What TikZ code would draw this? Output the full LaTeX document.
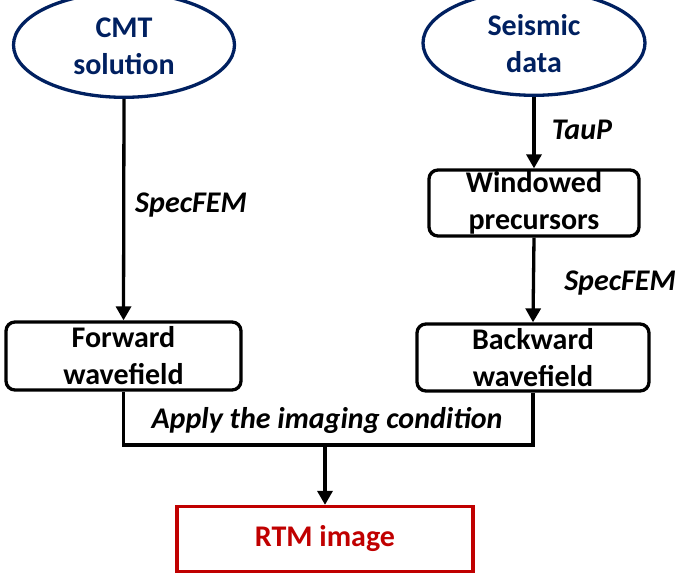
\documentclass[tikz,border=0pt]{standalone}
\usepackage{fontspec}
\setmainfont{Carlito}
\usetikzlibrary{shapes.geometric,arrows.meta}
\definecolor{navy}{RGB}{0,32,96}
\definecolor{rtmred}{RGB}{192,0,0}
\newcommand{\lowtwo}[2]{\raisebox{-4pt}[\height][\depth]{\begin{tabular}{@{}c@{}}#1\\#2\end{tabular}}}
\begin{document}
\begin{tikzpicture}[x=1pt,y=-1pt,
  boxtxt/.style={font=\fontsize{30}{37}\selectfont\bfseries, align=center, inner sep=0pt},
  oval/.style={boxtxt, ellipse, draw=navy, text=navy, line width=3.3pt},
  rbox/.style={boxtxt, draw=black, rounded corners=9pt, line width=3.3pt},
  redbox/.style={boxtxt, draw=rtmred, text=rtmred, line width=3.3pt},
  lab/.style={font=\fontsize{30}{36}\selectfont\bfseries\itshape, inner sep=0pt},
  conn/.style={line width=3.3pt},
  arr/.style={conn, -{Triangle[length=14pt,width=15pt]}}]
\useasboundingbox (0,0) rectangle (677,573);
\node[oval, minimum width=221pt, minimum height=74pt] (cmt) at (124,45) {\lowtwo{CMT}{solution}};
\node[oval, minimum width=222pt, minimum height=75pt] (seis) at (534,43) {\lowtwo{Seismic}{data}};
\node[rbox, minimum width=210pt, minimum height=66pt] (win) at (534,203) {Windowed\\precursors};
\node[rbox, minimum width=235pt, minimum height=68pt] (fwd) at (123.5,356) {Forward\\wavefield};
\node[rbox, minimum width=232pt, minimum height=67pt] (bwd) at (533,357.5) {Backward\\wavefield};
\node[redbox, minimum width=296pt, minimum height=65pt] (rtm) at (325,539) {RTM image};
\coordinate (m) at (325,445);
\draw[arr] (cmt.south) -- (fwd.north);
\draw[arr] (seis.south) -- (win.north);
\draw[arr] (win.south) -- (bwd.north);
\draw[conn] (fwd.south) -- (fwd.south |- m) -- (bwd.south |- m) -- (bwd.south);
\draw[arr] (m) -- (rtm.north);
\node[lab] (l1) at (191,205) {SpecFEM};
\node[lab] (l2) at (582,130) {TauP};
\node[lab] (l3) at (620,283) {SpecFEM};
\node[lab] (l4) at (327,420) {Apply the imaging condition};
\end{tikzpicture}
\end{document}
